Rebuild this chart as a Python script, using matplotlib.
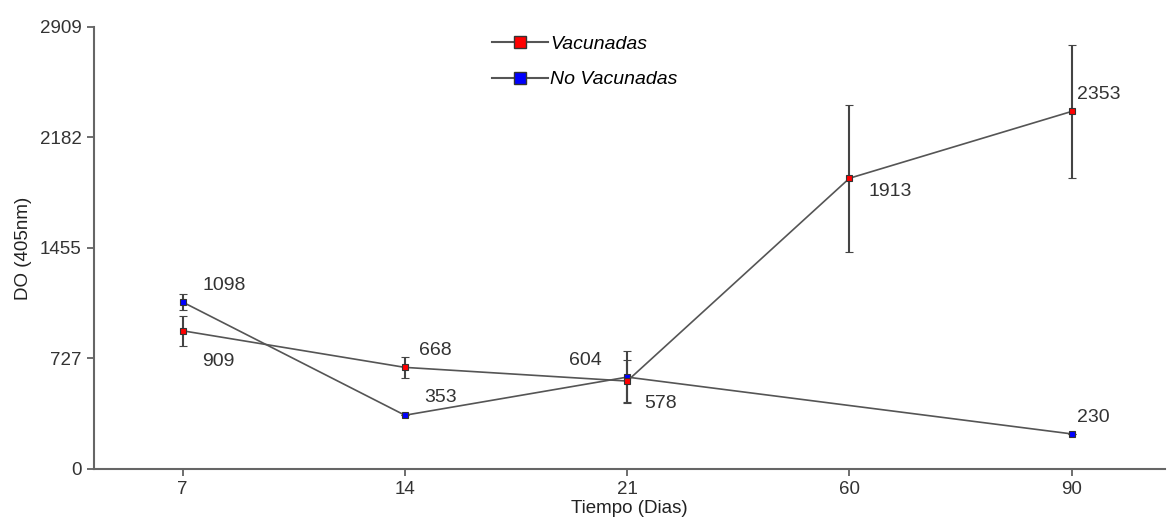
import numpy as np
import matplotlib.pyplot as plt
from matplotlib.lines import Line2D

plt.rcParams['font.family'] = ['Liberation Sans', 'DejaVu Sans']

dias = ['7', '14', '21', '60', '90']
vacunadas = [909, 668, 578, 1913, 2353]
vacunadas_err = [97, 70, 140, 485, 440]
no_vacunadas = [1098, 353, 604, np.nan, 230]
no_vacunadas_err = [50, 0, 170, np.nan, 0]
yticks = [0, 727, 1455, 2182, 2909]

# label offsets (points) for each annotated value
vac_off = [(14, -28), (10, 6), (12, -22), (14, -16), (4, 6)]
novac_off = [(14, 6), (14, 7), (-42, 6), None, (4, 6)]

fig = plt.figure(figsize=(11.71, 5.28), dpi=100)
ax = fig.add_axes([0.080, 0.112, 0.915, 0.837])

x = np.arange(len(dias))
line_col = '#555555'

nv = np.array(no_vacunadas, dtype=float)
ok = ~np.isnan(nv)
ax.errorbar(x[ok], nv[ok], yerr=np.array(no_vacunadas_err)[ok], color=line_col, lw=1.2,
            marker='s', ms=5, mfc='#0000ff', mec='#333333', mew=0.8,
            ecolor='#444444', elinewidth=1.5, capsize=3, zorder=3)
ax.errorbar(x, vacunadas, yerr=vacunadas_err, color=line_col, lw=1.2,
            marker='s', ms=5, mfc='#ff0000', mec='#333333', mew=0.8,
            ecolor='#444444', elinewidth=1.5, capsize=3, zorder=3)

for i, v in enumerate(vacunadas):
    ax.annotate(str(v), (x[i], v), xytext=vac_off[i], textcoords='offset points',
                fontsize=14, color='#333333', va='bottom')
for i, v in enumerate(no_vacunadas):
    if novac_off[i] is None:
        continue
    ax.annotate(str(v), (x[i], v), xytext=novac_off[i], textcoords='offset points',
                fontsize=14, color='#333333', va='bottom')

ax.set_xlim(-0.4, 4.42)
ax.set_ylim(0, 2909)
ax.set_xticks(x)
ax.set_xticklabels(dias)
ax.set_yticks(yticks)
ax.tick_params(labelsize=13.5, colors='#333333', length=5, width=1.2, color='#555555')
for s in ['top', 'right']:
    ax.spines[s].set_visible(False)
for s in ['left', 'bottom']:
    ax.spines[s].set_color('#666666')
    ax.spines[s].set_linewidth(1.5)

ax.set_xlabel('Tiempo (Dias)', fontsize=13.5, color='#222222', labelpad=2)
ax.set_ylabel('DO (405nm)', fontsize=13.5, color='#222222', labelpad=6)

handles = [Line2D([], [], color=line_col, lw=1.5, marker='s', ms=8, mfc='#ff0000', mec='#333333'),
           Line2D([], [], color=line_col, lw=1.5, marker='s', ms=8, mfc='#0000ff', mec='#333333')]
ax.legend(handles, ['Vacunadas', 'No Vacunadas'], loc='upper left', bbox_to_anchor=(0.355, 1.02),
          frameon=False, handlelength=2.9, handletextpad=0.1, labelspacing=0.9,
          prop={'style': 'italic', 'size': 14})

fig.savefig('out.png', dpi=100)
